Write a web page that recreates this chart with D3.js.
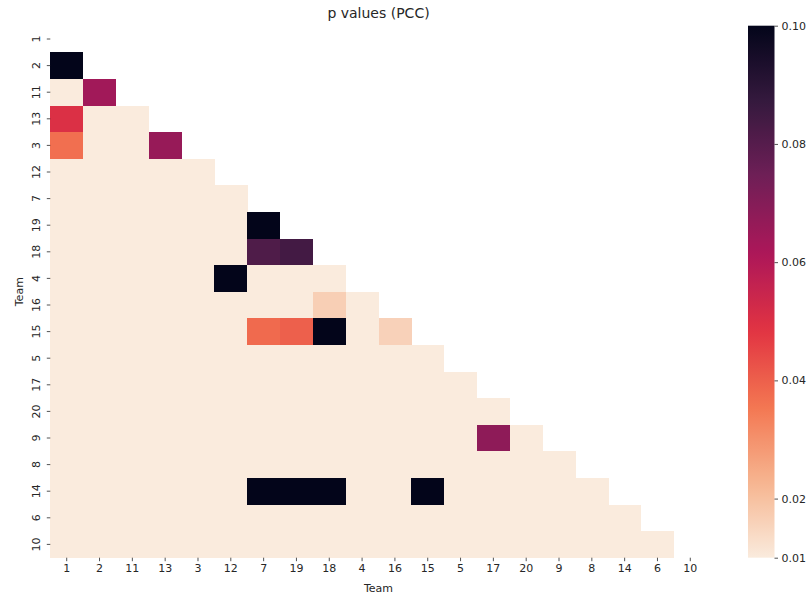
<!DOCTYPE html>
<html>
<head>
<meta charset="utf-8">
<script src="https://cdn.jsdelivr.net/npm/d3@7"></script>
<style>
  html, body { margin: 0; padding: 0; background: #fff; }
  svg { display: block; font-family: "DejaVu Sans", sans-serif; }
  .tick text { fill: #262626; }
  .tick line { stroke: #262626; stroke-width: 0.8; }
  .domain { display: none; }
</style>
</head>
<body>
<svg id="chart" width="812" height="596"></svg>
<script>
// ---- data ----
const teams = ["1","2","11","13","3","12","7","19","18","4","16","15","5","17","20","9","8","14","6","10"];
// lower-triangular p values, row r holds columns 0..r-1 (values <= 0.01 shown at the floor colour)
const pRows = [
  [],
  [0.10],
  [0.01, 0.064],
  [0.050, 0.01, 0.01],
  [0.037, 0.01, 0.01, 0.066],
  [0.01, 0.01, 0.01, 0.01, 0.01],
  [0.01, 0.01, 0.01, 0.01, 0.01, 0.01],
  [0.01, 0.01, 0.01, 0.01, 0.01, 0.01, 0.10],
  [0.01, 0.01, 0.01, 0.01, 0.01, 0.01, 0.0815, 0.084],
  [0.01, 0.01, 0.01, 0.01, 0.01, 0.10, 0.01, 0.01, 0.01],
  [0.01, 0.01, 0.01, 0.01, 0.01, 0.01, 0.01, 0.01, 0.0166, 0.01],
  [0.01, 0.01, 0.01, 0.01, 0.01, 0.01, 0.038, 0.040, 0.10, 0.01, 0.016],
  [0.01, 0.01, 0.01, 0.01, 0.01, 0.01, 0.01, 0.01, 0.01, 0.01, 0.01, 0.01],
  [0.01, 0.01, 0.01, 0.01, 0.01, 0.01, 0.01, 0.01, 0.01, 0.01, 0.01, 0.01, 0.01],
  [0.01, 0.01, 0.01, 0.01, 0.01, 0.01, 0.01, 0.01, 0.01, 0.01, 0.01, 0.01, 0.01, 0.01],
  [0.01, 0.01, 0.01, 0.01, 0.01, 0.01, 0.01, 0.01, 0.01, 0.01, 0.01, 0.01, 0.01, 0.068, 0.01],
  [0.01, 0.01, 0.01, 0.01, 0.01, 0.01, 0.01, 0.01, 0.01, 0.01, 0.01, 0.01, 0.01, 0.01, 0.01, 0.01],
  [0.01, 0.01, 0.01, 0.01, 0.01, 0.01, 0.10, 0.10, 0.10, 0.01, 0.01, 0.10, 0.01, 0.01, 0.01, 0.01, 0.01],
  [0.01, 0.01, 0.01, 0.01, 0.01, 0.01, 0.01, 0.01, 0.01, 0.01, 0.01, 0.01, 0.01, 0.01, 0.01, 0.01, 0.01, 0.01],
  [0.01, 0.01, 0.01, 0.01, 0.01, 0.01, 0.01, 0.01, 0.01, 0.01, 0.01, 0.01, 0.01, 0.01, 0.01, 0.01, 0.01, 0.01, 0.01]
];
const cbarTicks = [0.01, 0.02, 0.04, 0.06, 0.08, 0.10];
const colorDomain = [0.01, 0.10];
// rocket colormap stops (dark -> light); reversed for the chart
const rocketStops = ["#03051a", "#35193e", "#701f57", "#ad1759", "#e13342", "#f37651", "#f6b48f", "#faebdd"];
const rocketPos = [0, 1/7, 2/7, 3/7, 4/7, 5/7, 6/7, 1];

// ---- layout ----
const svg = d3.select("#chart");
const pLeft = 50.3, pRight = 706.7, pTop = 25.7, pBottom = 557.7;

const x = d3.scaleBand().domain(teams).range([pLeft, pRight]).padding(0);
const y = d3.scaleBand().domain(teams).range([pTop, pBottom]).padding(0);

const rocket = d3.scaleLinear().domain(rocketPos).range(rocketStops).interpolate(d3.interpolateRgb);
const color = d3.scaleSequential(t => rocket(1 - t)).domain(colorDomain).clamp(true);

const cells = [];
pRows.forEach((row, r) => row.forEach((v, c) => cells.push({ row: teams[r], col: teams[c], v })));

svg.append("g").selectAll("rect").data(cells).join("rect")
  .attr("x", d => x(d.col))
  .attr("y", d => y(d.row))
  .attr("width", x.bandwidth() + 0.3)
  .attr("height", y.bandwidth() + 0.3)
  .attr("fill", d => color(d.v))
  .attr("shape-rendering", "crispEdges");

// x axis
const gx = svg.append("g").attr("transform", `translate(0,${pBottom})`)
  .call(d3.axisBottom(x).tickSize(3.5).tickPadding(3.5));
gx.selectAll("text").attr("font-size", 11).attr("font-family", "DejaVu Sans");

// y axis (labels vertical)
const gy = svg.append("g").attr("transform", `translate(${pLeft},0)`)
  .call(d3.axisLeft(y).tickSize(3.5).tickPadding(3.5));
gy.selectAll("text")
  .attr("font-size", 11).attr("font-family", "DejaVu Sans")
  .attr("x", null).attr("dy", null)
  .attr("text-anchor", "middle")
  .attr("transform", "translate(-10.8,0) rotate(-90)");

// axis labels and title
svg.append("text").attr("x", (pLeft + pRight) / 2).attr("y", 592)
  .attr("text-anchor", "middle").attr("font-size", 11).attr("fill", "#262626").text("Team");
svg.append("text").attr("transform", `translate(23.3,${(pTop + pBottom) / 2}) rotate(-90)`)
  .attr("text-anchor", "middle").attr("font-size", 11).attr("fill", "#262626").text("Team");
svg.append("text").attr("x", (pLeft + pRight) / 2).attr("y", 18)
  .attr("text-anchor", "middle").attr("font-size", 14).attr("fill", "#262626").text("p values (PCC)");

// colorbar
const cbX = 748, cbW = 26.5;
const cbScale = d3.scaleLinear().domain(colorDomain).range([pBottom, pTop]);
const grad = svg.append("defs").append("linearGradient").attr("id", "cbgrad")
  .attr("x1", 0).attr("y1", 1).attr("x2", 0).attr("y2", 0);
d3.range(0, 1.0001, 0.02).forEach(t => {
  grad.append("stop").attr("offset", t)
    .attr("stop-color", color(colorDomain[0] + t * (colorDomain[1] - colorDomain[0])));
});
svg.append("rect").attr("x", cbX).attr("y", pTop).attr("width", cbW).attr("height", pBottom - pTop)
  .attr("fill", "url(#cbgrad)");
const gc = svg.append("g").attr("transform", `translate(${cbX + cbW},0)`)
  .call(d3.axisRight(cbScale).tickValues(cbarTicks).tickFormat(d3.format(".2f")).tickSize(3.5).tickPadding(3.5));
gc.selectAll("text").attr("font-size", 11).attr("font-family", "DejaVu Sans");
</script>
</body>
</html>
